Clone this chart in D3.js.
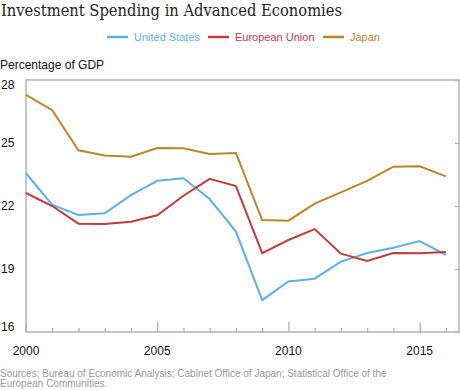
<!DOCTYPE html>
<html>
<head>
<meta charset="utf-8">
<script src="https://cdn.jsdelivr.net/npm/d3@7"></script>
<style>
  body { margin: 0; background: #fff; }
</style>
</head>
<body>
<div id="chart"></div>
<script>
// years and series (percentage of GDP)
var years = d3.range(2000, 2017);
var unitedStates = [23.56, 22.05, 21.57, 21.65, 22.52, 23.2, 23.32, 22.33, 20.78, 17.52, 18.41, 18.54, 19.35, 19.76, 20.01, 20.33, 19.67];
var europeanUnion = [22.62, 22.0, 21.16, 21.14, 21.25, 21.56, 22.49, 23.29, 22.95, 19.76, 20.38, 20.9, 19.73, 19.38, 19.76, 19.75, 19.81];
var japan = [27.29, 26.56, 24.65, 24.41, 24.35, 24.76, 24.75, 24.48, 24.52, 21.33, 21.3, 22.11, 22.65, 23.2, 23.87, 23.89, 23.41];
var yTicks = [16, 19, 22, 25, 28];
var xLabels = [2000, 2005, 2010, 2015];

var series = [
    {name: "United States", values: unitedStates, color: "#5eb0e5"},
    {name: "European Union", values: europeanUnion, color: "#c23b3e"},
    {name: "Japan", values: japan, color: "#b8862b"}
];

var width = 460, height = 390;
// plot box (note: "top" is reserved on window, so use other names)
var plotLeft = 26, plotRight = 459, plotTop = 80, plotBottom = 332;

var svg = d3.select("#chart").append("svg")
    .attr("width", width)
    .attr("height", height);

var x = d3.scaleLinear().domain([2000, 2016.5]).range([plotLeft, plotRight]);
var y = d3.scaleLinear().domain([16, 28]).range([plotBottom, plotTop]);

// title
svg.append("text")
    .attr("x", 1)
    .attr("y", 16)
    .style("font-family", "'DejaVu Serif', Georgia, serif")
    .style("font-size", "16px")
    .attr("textLength", 341)
    .attr("lengthAdjust", "spacingAndGlyphs")
    .attr("fill", "#222")
    .text("Investment Spending in Advanced Economies");

// legend
var legendPos = [107, 208, 323];
var legend = svg.selectAll(".legend")
    .data(series)
    .enter().append("g")
    .attr("class", "legend")
    .attr("transform", function (d, i) { return "translate(" + legendPos[i] + ",37)"; });
legend.append("line")
    .attr("x1", 0).attr("x2", 21)
    .attr("stroke", function (d) { return d.color; })
    .attr("stroke-width", 2.5);
legend.append("text")
    .attr("x", 27)
    .attr("y", 4)
    .style("font-family", "'Liberation Sans', Arial, sans-serif")
    .style("font-size", "11px")
    .attr("fill", function (d) { return d.color; })
    .text(function (d) { return d.name; });

// axis title
svg.append("text")
    .attr("x", 0)
    .attr("y", 69)
    .style("font-family", "'Liberation Sans', Arial, sans-serif")
    .style("font-size", "12px")
    .attr("fill", "#111")
    .text("Percentage of GDP");

// right-side y ticks
var yAxis = svg.append("g")
    .attr("transform", "translate(" + plotRight + ",0)")
    .call(d3.axisLeft(y).tickValues(yTicks).tickSize(4).tickFormat(""));
yAxis.select(".domain").remove();
yAxis.selectAll("line").attr("stroke", "#aaa").attr("stroke-width", 1.2);

// y labels, on the left
svg.selectAll(".ylab")
    .data(yTicks)
    .enter().append("text")
    .attr("class", "ylab")
    .attr("x", 1)
    .attr("y", function (d) {
        var p = y(d) + 4;
        if (d === 28) p = y(d) + 9;
        if (d === 16) p = y(d) - 1;
        return p;
    })
    .style("font-family", "'Liberation Sans', Arial, sans-serif")
    .style("font-size", "12px")
    .attr("fill", "#111")
    .text(function (d) { return d; });

// x ticks, pointing up from the bottom
var xAxis = svg.append("g")
    .attr("transform", "translate(0," + plotBottom + ")")
    .call(d3.axisTop(x).tickValues(years).tickFormat("")
        .tickSizeInner(4).tickSizeOuter(0));
xAxis.select(".domain").remove();
xAxis.selectAll("line")
    .attr("y2", function (d) { return d % 5 === 0 ? -10 : -4; })
    .attr("stroke", "#aaa").attr("stroke-width", 1.2);

svg.selectAll(".xlab")
    .data(xLabels)
    .enter().append("text")
    .attr("class", "xlab")
    .attr("x", function (d) { return x(d); })
    .attr("y", 355)
    .attr("text-anchor", "middle")
    .style("font-family", "'Liberation Sans', Arial, sans-serif")
    .style("font-size", "12px")
    .attr("fill", "#111")
    .text(function (d) { return d; });

// frame
svg.append("rect")
    .attr("x", plotLeft).attr("y", plotTop)
    .attr("width", plotRight - plotLeft).attr("height", plotBottom - plotTop)
    .attr("fill", "none")
    .attr("stroke", "#b3b3b3")
    .attr("stroke-width", 1.5);

// lines
var line = d3.line()
    .x(function (d, i) { return x(years[i]); })
    .y(function (d) { return y(d); });

svg.selectAll(".series")
    .data(series)
    .enter().append("path")
    .attr("class", "series")
    .attr("d", function (d) { return line(d.values); })
    .attr("fill", "none")
    .attr("stroke", function (d) { return d.color; })
    .attr("stroke-width", 2);

// sources
var src = svg.append("text")
    .style("font-family", "'Liberation Sans', Arial, sans-serif")
    .style("font-size", "10px")
    .attr("fill", "#999");
src.append("tspan").attr("x", 0).attr("y", 377)
    .text("Sources: Bureau of Economic Analysis; Cabinet Office of Japan; Statistical Office of the");
src.append("tspan").attr("x", 0).attr("y", 387)
    .text("European Communities.");
</script>
</body>
</html>
